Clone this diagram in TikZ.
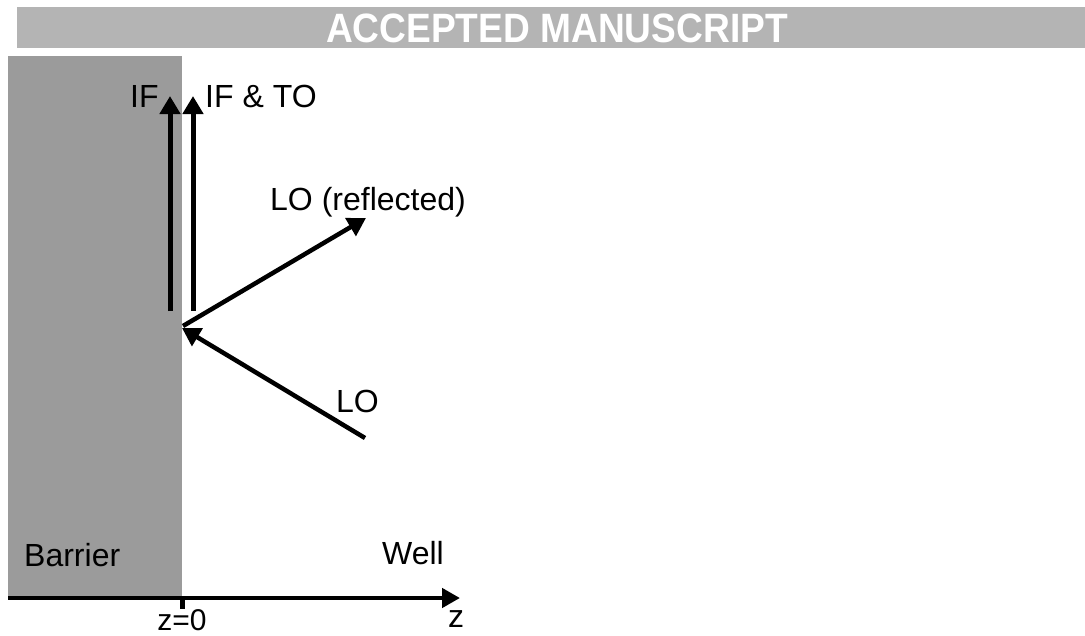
\documentclass[tikz,border=0pt]{standalone}
\usepackage{fontspec}
\setmainfont{Liberation Sans}
\usetikzlibrary{arrows.meta}
\definecolor{bannergray}{HTML}{B4B4B4}
\definecolor{barriergray}{HTML}{9B9B9B}
\tikzset{
  lbl/.style={inner sep=0pt, font=\fontsize{32}{36}\selectfont, text=black},
  vec/.style={line width=5pt, -{Triangle[length=18pt,width=20pt]}},
  axisline/.style={line width=4.5pt, -{Triangle[length=18pt,width=19pt]}},
}
\begin{document}
\begin{tikzpicture}[x=1pt,y=-1pt]
\useasboundingbox (0,0) rectangle (1085,635);
\fill[white] (0,0) rectangle (1085,635);
% banner
\fill[bannergray] (17,7) rectangle (1085,48);
\node[inner sep=0pt, anchor=base, text=white, font=\fontsize{41}{44}\bfseries\selectfont, xscale=0.905] (banner) at (557,42) {ACCEPTED MANUSCRIPT};
% barrier
\fill[barriergray] (8,56) rectangle (182,598);
% coordinates
\coordinate (o) at (8,598);
\coordinate (zend) at (460,598);
\coordinate (z0) at (182,598);
\coordinate (z0b) at (182,609);
\coordinate (if1a) at (170,311);
\coordinate (if1b) at (170,96);
\coordinate (if2a) at (193,311);
\coordinate (if2b) at (193,96);
\coordinate (ref0) at (183,326);
\coordinate (ref1) at (366,218);
\coordinate (inc0) at (365,438);
\coordinate (inc1) at (182,328);
% arrows
\draw[axisline] (o) -- (zend);
\draw[line width=5pt] (z0) -- (z0b);
\draw[vec] (if1a) -- (if1b);
\draw[vec] (if2a) -- (if2b);
\draw[vec, line width=4.5pt] (ref0) -- (ref1);
\draw[vec, line width=4.5pt] (inc0) -- (inc1);
% labels
\node[lbl, anchor=base west] (lif) at (130,107) {IF};
\node[lbl, anchor=base west] (lifto) at (205,107) {IF \& TO};
\node[lbl, anchor=base west] (lref) at (270,210) {LO (reflected)};
\node[lbl, anchor=base west] (llo) at (336,412) {LO};
\node[lbl, anchor=base west] (lbar) at (24,566) {Barrier};
\node[lbl, anchor=base west] (lwell) at (382,564) {Well};
\node[lbl, anchor=base, font=\fontsize{30}{34}\selectfont] (lz0) at (182,630) {z=0};
\node[lbl, anchor=base west] (lz) at (448,627) {z};
\end{tikzpicture}
\end{document}
